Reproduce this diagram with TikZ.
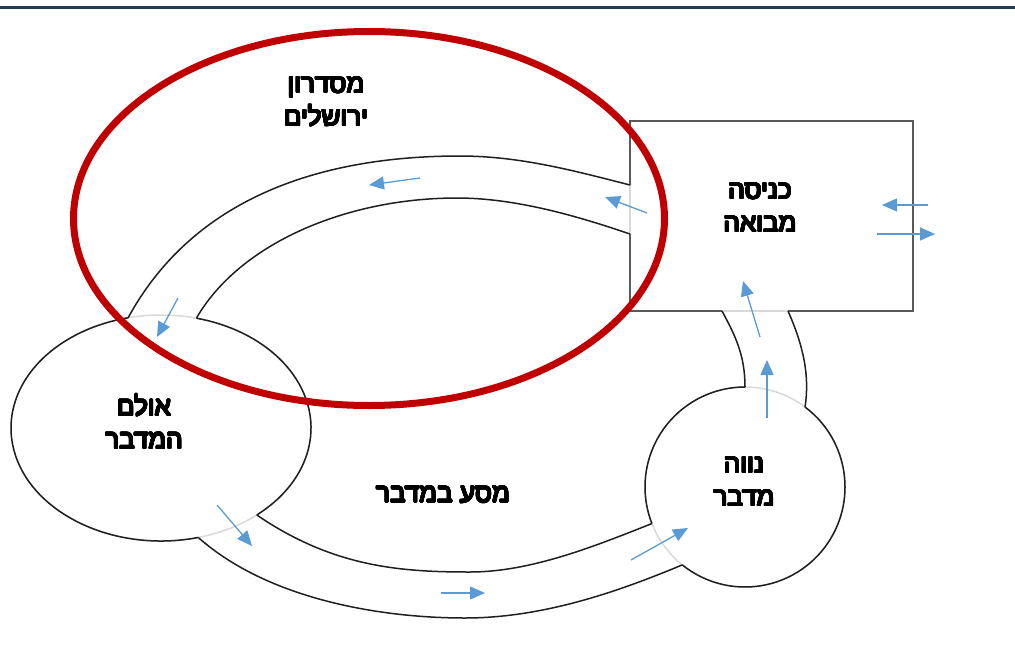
\documentclass[tikz,border=0pt]{standalone}
\usepackage{fontspec}
\usepackage[copies]{contour}
\newfontfamily\hebfont[Script=Hebrew]{Liberation Sans}
\TeXXeTstate=1
\contourlength{0.75pt}
\contournumber{24}
\usetikzlibrary{calc,arrows.meta}
\definecolor{deepred}{RGB}{192,0,0}
\definecolor{flowblue}{RGB}{91,155,213}
\definecolor{navyline}{RGB}{31,58,90}
\definecolor{edgegray}{RGB}{89,89,89}
\definecolor{gapgray}{RGB}{217,217,217}
\def\partellipse[#1](#2)(#3:#4:#5:#6){\draw[#1] ($(#2)+({#5*cos(#3)},{#6*sin(#3)})$) arc[start angle=#3, end angle=#4, x radius=#5, y radius=#6];}
\newcommand{\hebline}[1]{\contour{black}{\beginR #1\endR}}
\tikzset{
  wall/.style={line width=1.5pt, draw=black!88},
  gap/.style={line width=1.5pt, draw=gapgray},
  flow/.style={draw=flowblue, line width=1.3pt, -{Triangle[length=15pt,width=13pt]}},
  place/.style={font=\hebfont\fontsize{26}{33}\selectfont, align=center, inner sep=0pt}
}

\begin{document}
\begin{tikzpicture}[x=1pt,y=-1pt]
			%%%%% START %%%%%
			\useasboundingbox (0,0) rectangle (1015,672);
			
			\draw[line width=3pt, navyline] (0,7) -- (1015,7);
			
			% entrance hall
			\draw[gap] (630,121) rectangle (913,311);
			\draw[wall, draw=edgegray] (630,185) -- (630,121) -- (913,121) -- (913,311) -- (788,311);
			\draw[wall, draw=edgegray] (722,311) -- (630,311) -- (630,234);
			
			% desert hall
			\draw[gap] (161,428) ellipse [x radius=150, y radius=113];
			\partellipse[wall](161,428)(-76.3:50.3:150:113)
			\partellipse[wall](161,428)(75.6:257.3:150:113)
			
			% oasis
			\draw[gap] (745,487) circle (100);
			\partellipse[wall](745,487)(-53.1:128.9:100:100)
			\partellipse[wall](745,487)(158.6:270:100:100)
			
			% passage to the entrance
			\draw[wall] (128,318) .. controls (190,204) and (310,156) .. (460,156) .. controls (520,156) and (575,171) .. (630,185);
			\draw[wall] (196.5,318) .. controls (240,243) and (347,198) .. (457,198) .. controls (517,198) and (580,217) .. (630,234);
			
			% desert journey
			\draw[wall] (256.8,515) .. controls (333,567) and (400,572) .. (470,572) .. controls (530,572) and (593,547) .. (652,523.5);
			\draw[wall] (198.3,537.5) .. controls (270,601) and (385,618) .. (465,618) .. controls (545,618) and (622,590) .. (682,565);
			
			% oasis up to the entrance
			\draw[wall] (722,311) .. controls (735,335) and (745,355) .. (745,387);
			\draw[wall] (788,311) .. controls (803,345) and (810,375) .. (805,407);
			
			\draw[deepred, line width=7pt] (369,218.5) ellipse [x radius=295.5, y radius=187];
			
			% flow
			\draw[flow] (420,178) -- (369,185);
			\draw[flow] (647,213) -- (605,197);
			\draw[flow] (178,298) -- (157,337);
			\draw[flow] (217,505) -- (252,546);
			\draw[flow] (441,593) -- (485,593);
			\draw[flow] (631,560) -- (688,528);
			\draw[flow] (767,418) -- (767,360);
			\draw[flow] (760,337) -- (743,281);
			\draw[flow] (928,205) -- (882,205);
			\draw[flow] (877,234) -- (935,234);
			
			\node[place] (jerusalem) at (326,102) {\hebline{מסדרון}\\\hebline{ירושלים}};
			\node[place] (entrance) at (760,208) {\hebline{כניסה}\\\hebline{מבואה}};
			\node[place] (hall) at (144,422) {\hebline{אולם}\\\hebline{המדבר}};
			\node[place] (oasis) at (744,482) {\hebline{נווה}\\\hebline{מדבר}};
			\node[place] (journey) at (443,495) {\hebline{מסע במדבר}};
			
			%%%%% END %%%%%
\end{tikzpicture}
\end{document}
